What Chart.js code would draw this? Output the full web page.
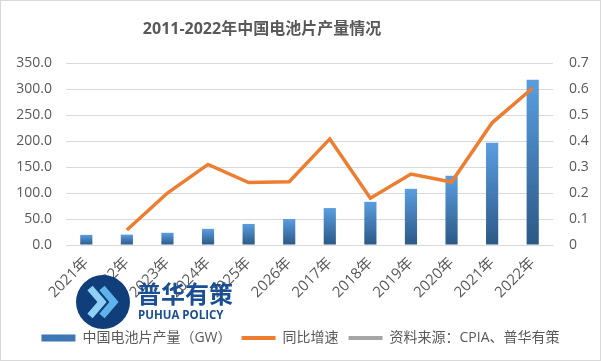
<!DOCTYPE html>
<html>
<head>
<meta charset="utf-8">
<script src="https://cdn.jsdelivr.net/npm/chart.js@4.4.1/dist/chart.umd.min.js"></script>
<style>
  html, body { margin: 0; padding: 0; background: #fff; }
  #wrap { width: 601px; height: 361px; }
</style>
</head>
<body>
<div id="wrap"><canvas id="chart" width="601" height="361"></canvas></div>
<script>
const years = ['2021年', '2022年', '2023年', '2024年', '2025年', '2026年', '2017年', '2018年', '2019年', '2020年', '2021年', '2022年'];
const output = [19.5, 20, 23.5, 31, 40.5, 50, 71, 83, 108, 133, 196.5, 318];
const growth = [null, 0.058, 0.2, 0.31, 0.24, 0.243, 0.408, 0.18, 0.273, 0.242, 0.47, 0.604];
const leftTicks = [0, 50, 100, 150, 200, 250, 300, 350];
const rightTicks = [0, 0.1, 0.2, 0.3, 0.4, 0.5, 0.6, 0.7];

const FONT = "'Open Sans', 'Noto Sans CJK SC', sans-serif";
const GREY = '#595959';

// each bar gets its own top-light / bottom-dark gradient
function barFill(ctx) {
  const chart = ctx.chart;
  if (!chart.chartArea || ctx.type !== 'data') return '#3d77b5';
  const y = chart.scales.y;
  const top = y.getPixelForValue(ctx.raw);
  const bottom = y.getPixelForValue(0);
  if (!isFinite(top) || bottom - top < 1) return '#3d77b5';
  const g = chart.ctx.createLinearGradient(0, top, 0, bottom);
  g.addColorStop(0, '#5a9ee0');
  g.addColorStop(1, '#2b5886');
  return g;
}

const decor = {
  id: 'decor',
  beforeDraw(chart) {
    const c = chart.ctx;
    c.save();
    c.fillStyle = '#fff';
    c.fillRect(0, 0, chart.width, chart.height);
    c.restore();
  },
  afterDraw(chart) {
    const c = chart.ctx;
    c.save();
    // title
    c.fillStyle = GREY;
    c.font = "bold 16px " + FONT;
    c.textAlign = 'center';
    c.textBaseline = 'middle';
    c.fillText('2011-2022年中国电池片产量情况', 262, 29);

    // watermark logo
    c.beginPath();
    c.arc(103, 302, 27, 0, Math.PI * 2);
    c.fillStyle = '#0f3e7a';
    c.fill();
    c.lineCap = 'butt';
    c.lineJoin = 'miter';
    c.lineWidth = 7;
    c.strokeStyle = '#8fd0f5';
    c.beginPath();
    c.moveTo(90, 288); c.lineTo(102, 302); c.lineTo(90, 316);
    c.stroke();
    c.strokeStyle = '#5fb2ea';
    c.beginPath();
    c.moveTo(102, 288); c.lineTo(114, 302); c.lineTo(102, 316);
    c.stroke();
    c.fillStyle = '#1b4f93';
    c.textAlign = 'left';
    c.font = "bold 24px 'Noto Sans CJK SC', sans-serif";
    c.fillText('普华有策', 137, 294);
    c.font = "bold 11.5px " + FONT;
    c.fillText('PUHUA POLICY', 138, 316);

    // outer frame
    c.strokeStyle = '#d9d9d9';
    c.lineWidth = 1;
    c.strokeRect(0.5, 0.5, chart.width - 1, chart.height - 1);
    c.restore();
  }
};

new Chart(document.getElementById('chart'), {
  data: {
    labels: years,
    datasets: [
      {
        type: 'bar',
        label: '中国电池片产量（GW）',
        data: output,
        yAxisID: 'y',
        backgroundColor: barFill,
        categoryPercentage: 1,
        barPercentage: 0.3,
        order: 2
      },
      {
        type: 'line',
        label: '同比增速',
        data: growth,
        yAxisID: 'y1',
        borderColor: '#ed7d31',
        backgroundColor: '#ed7d31',
        borderWidth: 3.5,
        pointRadius: 0,
        tension: 0,
        order: 1
      },
      {
        type: 'line',
        label: '资料来源：CPIA、普华有策',
        data: [],
        yAxisID: 'y1',
        borderColor: '#a5a5a5',
        backgroundColor: '#a5a5a5',
        borderWidth: 3.5,
        pointRadius: 0
      }
    ]
  },
  options: {
    responsive: false,
    animation: false,
    layout: { padding: { top: 63, bottom: 6, left: 0, right: 0 } },
    plugins: {
      title: { display: false },
      tooltip: { enabled: false },
      legend: {
        position: 'bottom',
        labels: {
          color: GREY,
          font: { family: FONT, size: 14 },
          usePointStyle: true,
          pointStyleWidth: 34,
          boxHeight: 7,
          padding: 10,
          generateLabels(chart) {
            return chart.data.datasets.map((ds, i) => ({
              text: ds.label,
              datasetIndex: i,
              fillStyle: i === 0 ? '#3d77b5' : ds.borderColor,
              strokeStyle: i === 0 ? '#3d77b5' : ds.borderColor,
              lineWidth: i === 0 ? 0 : 4,
              pointStyle: i === 0 ? 'rect' : 'line',
              fontColor: GREY,
              hidden: false
            }));
          }
        }
      }
    },
    scales: {
      x: {
        grid: { display: false },
        border: { display: false },
        ticks: {
          color: GREY,
          font: { family: FONT, size: 15 },
          maxRotation: 45,
          minRotation: 45,
          autoSkip: false,
          padding: 1
        },
        afterFit(s) { s.height = 76; }
      },
      y: {
        position: 'left',
        min: 0,
        max: 350,
        afterBuildTicks(s) { s.ticks = leftTicks.map(v => ({ value: v })); },
        grid: { color: '#d9d9d9', lineWidth: 1, drawTicks: false },
        border: { display: false },
        ticks: {
          color: GREY,
          font: { family: FONT, size: 14 },
          padding: 14,
          callback: v => v.toFixed(1)
        },
        afterFit(s) { s.width = 66; }
      },
      y1: {
        position: 'right',
        min: 0,
        max: 0.7,
        afterBuildTicks(s) { s.ticks = rightTicks.map(v => ({ value: v })); },
        grid: { display: false, drawTicks: false },
        border: { display: false },
        ticks: {
          color: GREY,
          font: { family: FONT, size: 14 },
          padding: 16,
          callback: v => String(Math.round(v * 10) / 10)
        },
        afterFit(s) { s.width = 48; }
      }
    }
  },
  plugins: [decor]
});
</script>
</body>
</html>
